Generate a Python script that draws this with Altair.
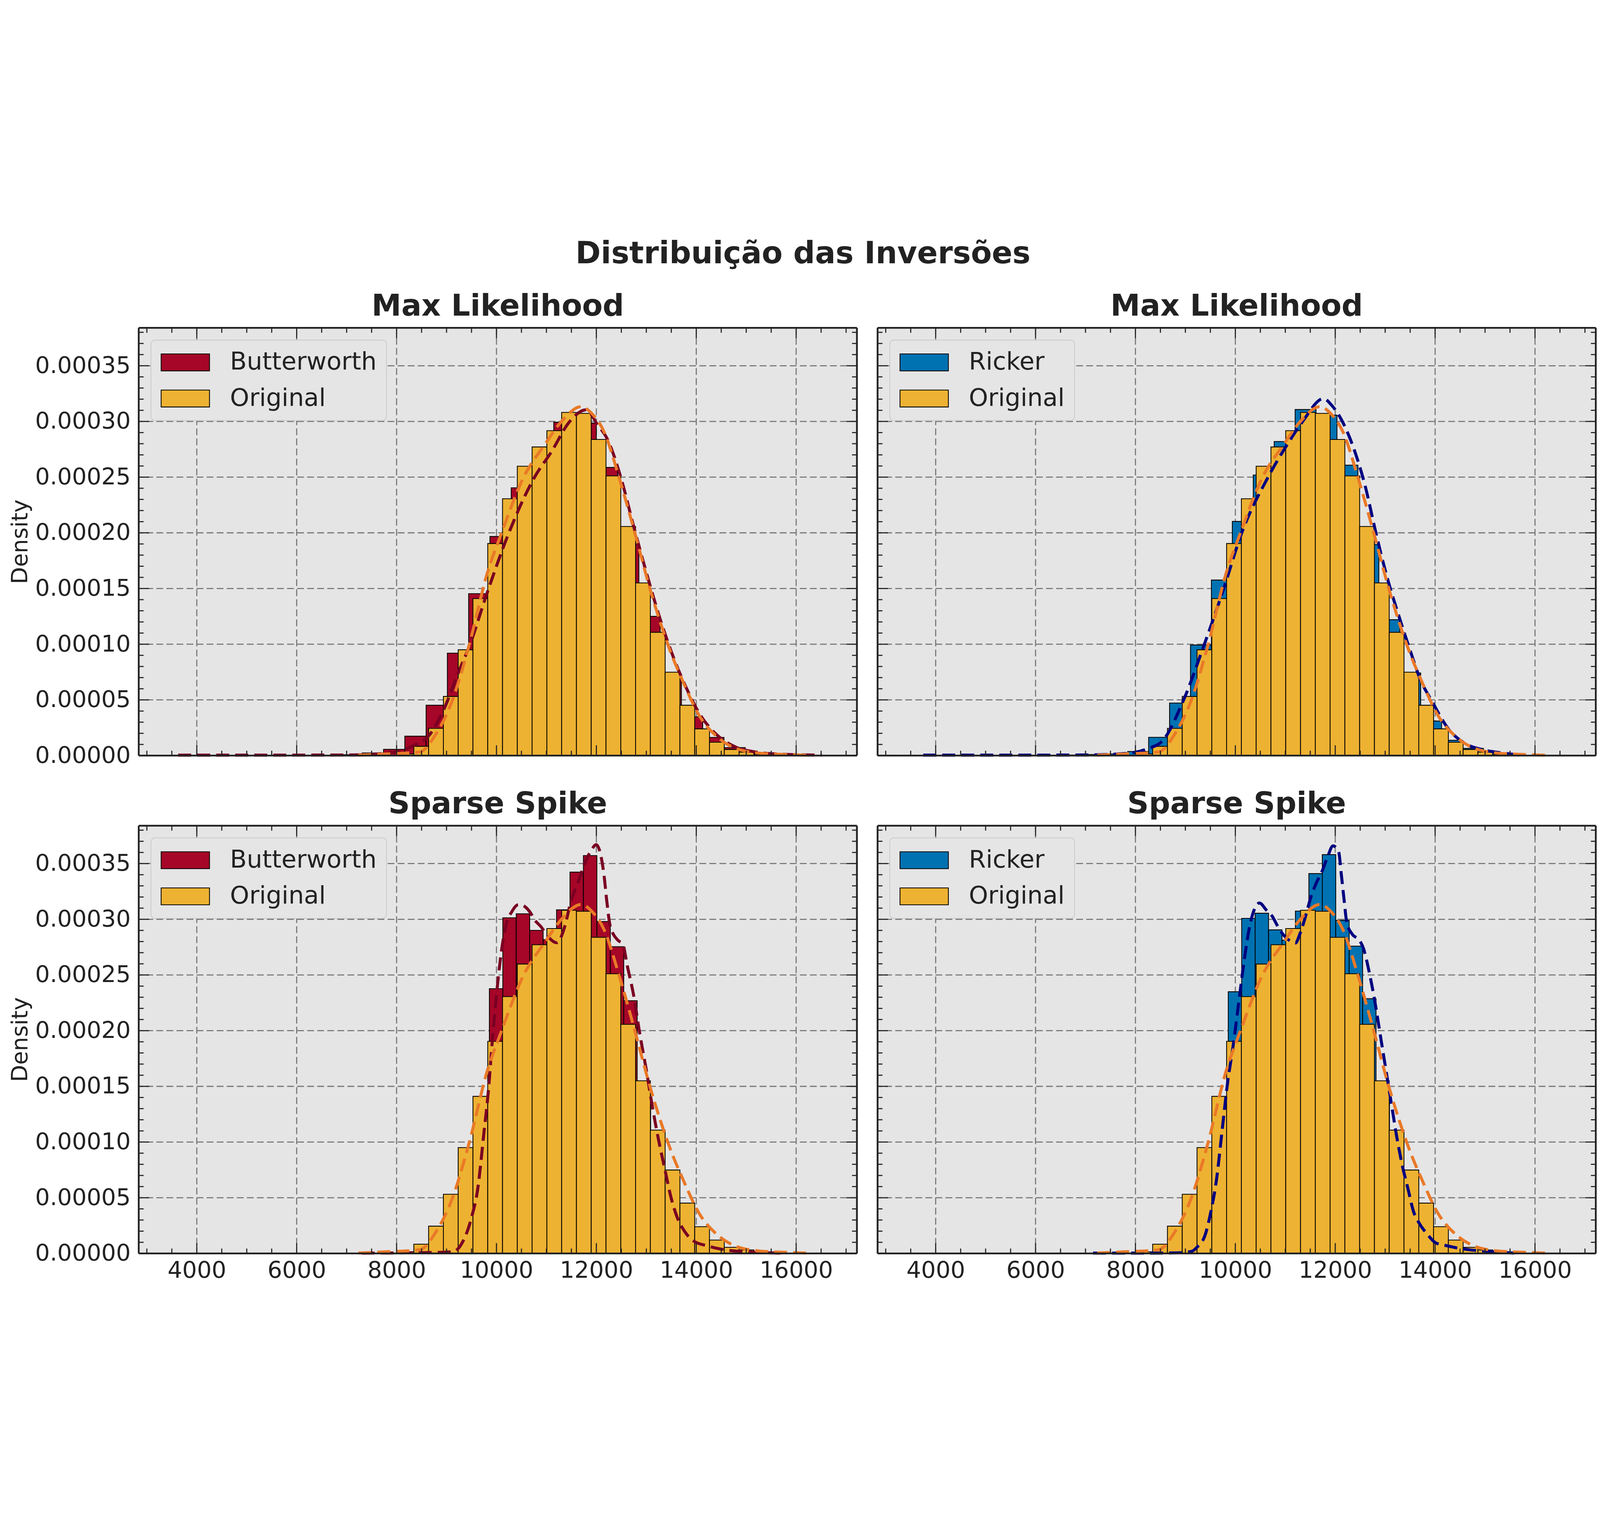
import altair as alt
import pandas as pd

# panel size (plot area) and axis ranges
W, H = 2643, 1574
X_DOMAIN = [2837, 17217]
Y_DOMAIN = [0, 0.000384]

X_MAJOR = [4000, 6000, 8000, 10000, 12000, 14000, 16000]
Y_MAJOR = [0.0, 0.00005, 0.0001, 0.00015, 0.0002, 0.00025, 0.0003, 0.00035]
X_MINOR = [v for v in range(3000, 17500, 500) if v % 2000]
Y_MINOR = [k / 100000 for k in range(1, 39) if k % 5]

# colours
BW_BAR, RK_BAR, ORIG_BAR = "#A60628", "#0072B2", "#EEB232"
BW_LINE, RK_LINE, ORIG_LINE = "#7A0022", "#000080", "#E97927"
INK = "#222222"

# histograms: first bin edge, bin width, densities
ORIG_START, ORIG_WIDTH = 8049, 296
ORIG_DENS = [0.0000015, 0.0000083, 0.0000245, 0.0000531, 0.000095, 0.000141,
             0.0001904, 0.0002306, 0.0002598, 0.0002771, 0.0002917, 0.0003081,
             0.0003072, 0.0002838, 0.0002511, 0.0002057, 0.000155, 0.0001107,
             0.0000749, 0.0000452, 0.000024, 0.000012, 0.0000055, 0.0000031, 0.000001]

BW_ML_START, BW_ML_WIDTH = 6887, 426
BW_ML_DENS = [0.0000008, 0.0000024, 0.0000056, 0.0000174, 0.0000452, 0.000092,
              0.0001454, 0.0001967, 0.0002404, 0.000272, 0.0002993, 0.0002985,
              0.0002587, 0.00019, 0.000125, 0.0000728, 0.0000348, 0.0000163,
              0.0000072, 0.0000017]

RK_ML_START, RK_ML_WIDTH = 6588, 419
RK_ML_DENS = [0.0000005, 0.000001, 0.0000015, 0.0000037, 0.0000164, 0.0000472,
              0.0000993, 0.0001576, 0.0002102, 0.0002519, 0.000282, 0.0003107,
              0.0003056, 0.0002607, 0.0001895, 0.000122, 0.0000742, 0.000031,
              0.0000138, 0.0000065, 0.0000022]

BW_SS_START, BW_SS_WIDTH = 9051, 269
BW_SS_DENS = [0.000004, 0.00003, 0.0001, 0.0002377, 0.0003013, 0.0003049, 0.00029,
              0.0002818, 0.0003085, 0.0003423, 0.0003572, 0.000298, 0.0002754,
              0.0002269, 0.00015, 0.0001, 0.000045, 0.000017, 0.000008, 0.000004,
              0.000002]

RK_SS_START, RK_SS_WIDTH = 9051, 269
RK_SS_DENS = [0.000004, 0.00003, 0.0001, 0.0002349, 0.0003008, 0.0003054,
              0.0002905, 0.0002813, 0.0003074, 0.000341, 0.000358, 0.000299,
              0.0002759, 0.0002287, 0.00015, 0.000105, 0.00004, 0.000015,
              0.000007, 0.0000045, 0.000002]

# kde curves
ORIG_KDE_X = [7233, 7800, 8462, 8792, 9122, 9452, 9815, 10099, 10541, 10970, 11300,
              11696, 11894, 12158, 12455, 12752, 13082, 13479, 13743, 14073, 14403,
              14733, 15261, 15987, 16300]
ORIG_KDE_Y = [0.0000004, 0.0000015, 0.0000033, 0.0000196, 0.0000502, 0.0000991,
              0.0001637, 0.0001995, 0.0002497, 0.0002794, 0.0002999, 0.0003133,
              0.0003078, 0.0002903, 0.0002497, 0.000203, 0.0001484, 0.0000939,
              0.0000655, 0.0000349, 0.0000175, 0.0000076, 0.0000022, 0.0000007,
              0.0000002]

BW_ML_KDE_X = [3626, 5000, 6500, 7142, 7802, 8330, 8660, 8924, 9254, 9465, 9782,
               10244, 10759, 11102, 11465, 11795, 12026, 12224, 12488, 12752, 13016,
               13281, 13545, 13809, 14073, 14403, 14799, 15195, 15723, 16515]
BW_ML_KDE_Y = [0.0000004, 0.0000004, 0.0000005, 0.0000006, 0.0000022, 0.0000087,
               0.0000186, 0.0000393, 0.0000764, 0.0000991, 0.000142, 0.0001995,
               0.0002497, 0.0002729, 0.0002999, 0.0003104, 0.0002969, 0.0002838,
               0.00025, 0.000205, 0.000162, 0.000122, 0.000088, 0.00006,
               0.000037, 0.000019, 0.0000075, 0.0000032, 0.0000012, 0.0000004]

RK_ML_KDE_X = [3750, 5500, 7038, 7872, 8261, 8539, 8956, 9373, 9763, 10124, 10652,
               11041, 11347, 11764, 11931, 12153, 12376, 12598, 12821, 13043, 13265,
               13488, 13710, 13933, 14266, 14600, 14933, 15378, 15712]
RK_ML_KDE_Y = [0.0000004, 0.0000004, 0.0000006, 0.0000022, 0.0000065, 0.0000131,
               0.0000491, 0.0000991, 0.0001493, 0.0001995, 0.0002497, 0.0002794,
               0.0002999, 0.0003205, 0.0003144, 0.0002991, 0.0002751, 0.0002423,
               0.0001987, 0.0001594, 0.0001266, 0.0000961, 0.0000677, 0.0000491,
               0.000024, 0.0000109, 0.0000055, 0.0000022, 0.0000004]

BW_SS_KDE_X = [7300, 8200, 8700, 9125, 9310, 9500, 9625, 9750, 9842, 9908, 10000,
               10092, 10185, 10310, 10435, 10478, 10663, 10772, 10897, 10989, 11207,
               11293, 11370, 11495, 11641, 11783, 11900, 11995, 12152, 12212, 12277,
               12435, 12527, 12620, 12745, 12870, 12995, 13120, 13245, 13370, 13495,
               13620, 13772, 13929, 14239, 14554, 15179, 15804]
BW_SS_KDE_Y = [0.0000003, 0.0000005, 0.0000008, 0.0000015, 0.0000093, 0.0000322,
               0.000058, 0.000109, 0.000148, 0.000186, 0.000232, 0.000269, 0.000294,
               0.000307, 0.000313, 0.000313, 0.000307, 0.000299, 0.000293, 0.000287,
               0.000279, 0.000284, 0.000294, 0.000317, 0.000334, 0.000352, 0.000362,
               0.000367, 0.00034, 0.000315, 0.000294, 0.000281, 0.000278, 0.000258,
               0.000232, 0.000197, 0.000166, 0.000132, 0.000102, 0.0000759,
               0.0000502, 0.0000322, 0.0000195, 0.0000117, 0.0000066, 0.0000034,
               0.000001, 0.0000002]

RK_SS_KDE_X = [7150, 8400, 8844, 9122, 9233, 9400, 9511, 9622, 9733, 9844, 9956,
               10067, 10178, 10289, 10400, 10483, 10622, 10733, 10844, 10956, 11122,
               11206, 11289, 11400, 11511, 11622, 11733, 11844, 11956, 12067, 12122,
               12178, 12233, 12344, 12483, 12567, 12678, 12789, 12900, 13011, 13122,
               13233, 13344, 13456, 13567, 13678, 13844, 14011, 14233, 14511, 15067,
               15622]
RK_SS_KDE_Y = [0.0000003, 0.0000003, 0.0000005, 0.0000018, 0.0000056, 0.0000172,
               0.0000377, 0.0000659, 0.0001095, 0.0001531, 0.0001864, 0.0002249,
               0.0002633, 0.0002941, 0.0003108, 0.0003146, 0.0003082, 0.0003031,
               0.0002941, 0.0002864, 0.00028, 0.0002787, 0.0002864, 0.0003018,
               0.0003197, 0.0003326, 0.0003428, 0.0003556, 0.0003659, 0.0003608,
               0.0003403, 0.0003172, 0.0002967, 0.0002864, 0.0002813, 0.0002736,
               0.0002531, 0.0002274, 0.0001967, 0.0001659, 0.0001351, 0.0001044,
               0.0000787, 0.0000582, 0.0000377, 0.0000274, 0.0000172, 0.0000095,
               0.0000069, 0.0000044, 0.0000018, 0.0000002]

LEGEND_SHAPE = "M-1,-0.7L3,-0.7L3,0.7L-1,0.7Z"


def hist_rows(name, start, width, dens, z):
    return pd.DataFrame({
        "series": name,
        "x0": [start + i * width for i in range(len(dens))],
        "x1": [start + (i + 1) * width for i in range(len(dens))],
        "density": dens,
        "z": z,
    })


def panel(title, name, bar_color, line_color, start, width, dens,
          kde_x, kde_y, left, bottom):
    x_scale = alt.Scale(domain=X_DOMAIN, nice=False, zero=False)
    y_scale = alt.Scale(domain=Y_DOMAIN, nice=False, zero=False)
    if bottom:
        x_axis = alt.Axis(values=X_MAJOR, format="d", labelFontSize=85,
                          labelColor=INK, labelPadding=22, labelLimit=1000,
                          ticks=False, tickSize=0, domain=False, grid=False,
                          title=None, labelFlush=False)
    else:
        x_axis = None
    if left:
        y_axis = alt.Axis(values=Y_MAJOR, format=".5f", labelFontSize=85,
                          labelColor=INK, labelPadding=30, labelLimit=1000,
                          ticks=False, tickSize=0, domain=False, grid=False,
                          title=None)
    else:
        y_axis = None

    def xe(field):
        return alt.X(f"{field}:Q", scale=x_scale, axis=x_axis)

    def ye(field):
        return alt.Y(f"{field}:Q", scale=y_scale, axis=y_axis)

    xmaj = alt.Chart(pd.DataFrame({"v": X_MAJOR}))
    xmin = alt.Chart(pd.DataFrame({"v": X_MINOR}))
    ymaj = alt.Chart(pd.DataFrame({"v": Y_MAJOR}))
    ymin = alt.Chart(pd.DataFrame({"v": Y_MINOR}))
    one = alt.Chart(pd.DataFrame({"a": [0]}))

    grid_style = dict(color="#767676", strokeWidth=4, strokeDash=[25, 12])
    grid_v = xmaj.mark_rule(**grid_style).encode(x=xe("v"))
    grid_h = alt.Chart(pd.DataFrame({"v": Y_MAJOR[1:]})).mark_rule(**grid_style).encode(y=ye("v"))

    bars = pd.concat([hist_rows(name, start, width, dens, 0),
                      hist_rows("Original", ORIG_START, ORIG_WIDTH, ORIG_DENS, 1)])
    legend = alt.Legend(title=None, orient="top-left", offset=45, padding=36,
                        fillColor="#E5E5E5", strokeColor="#CCCCCC",
                        cornerRadius=15, labelFontSize=90, labelColor=INK,
                        labelLimit=1200, labelOffset=163, symbolType=LEGEND_SHAPE,
                        symbolSize=7921, symbolStrokeColor="black",
                        symbolStrokeWidth=3, symbolOpacity=1, rowPadding=42)
    hist = alt.Chart(bars).mark_rect(stroke="black", strokeWidth=3, opacity=1).encode(
        x=xe("x0"), x2="x1", y=ye("density"), y2=alt.datum(0),
        color=alt.Color("series:N",
                        scale=alt.Scale(domain=[name, "Original"],
                                        range=[bar_color, ORIG_BAR]),
                        legend=legend),
        order="z:Q",
    )

    line_style = dict(strokeWidth=11, strokeDash=[48, 22], interpolate="monotone")
    kde_f = alt.Chart(pd.DataFrame({"x": kde_x, "y": kde_y})).mark_line(
        color=line_color, **line_style).encode(x=xe("x"), y=ye("y"))
    kde_o = alt.Chart(pd.DataFrame({"x": ORIG_KDE_X, "y": ORIG_KDE_Y})).mark_line(
        color=ORIG_LINE, **line_style).encode(x=xe("x"), y=ye("y"))

    tick = dict(color=INK, strokeWidth=4)
    ticks = [
        xmaj.mark_rule(**tick).encode(x=xe("v"), y=alt.value(0), y2=alt.value(38)),
        xmaj.mark_rule(**tick).encode(x=xe("v"), y=alt.value(H - 38), y2=alt.value(H)),
        xmin.mark_rule(**tick).encode(x=xe("v"), y=alt.value(0), y2=alt.value(18)),
        xmin.mark_rule(**tick).encode(x=xe("v"), y=alt.value(H - 18), y2=alt.value(H)),
        ymaj.mark_rule(**tick).encode(y=ye("v"), x=alt.value(0), x2=alt.value(38)),
        ymaj.mark_rule(**tick).encode(y=ye("v"), x=alt.value(W - 38), x2=alt.value(W)),
        ymin.mark_rule(**tick).encode(y=ye("v"), x=alt.value(0), x2=alt.value(18)),
        ymin.mark_rule(**tick).encode(y=ye("v"), x=alt.value(W - 18), x2=alt.value(W)),
    ]
    spine = dict(color=INK, strokeWidth=6.5)
    frame = [
        one.mark_rule(**spine).encode(x=alt.value(0), y=alt.value(0), y2=alt.value(H)),
        one.mark_rule(**spine).encode(x=alt.value(W), y=alt.value(0), y2=alt.value(H)),
        one.mark_rule(**spine).encode(y=alt.value(0), x=alt.value(0), x2=alt.value(W)),
        one.mark_rule(**spine).encode(y=alt.value(H), x=alt.value(0), x2=alt.value(W)),
    ]
    layers = [grid_v, grid_h, hist, kde_f, kde_o, *ticks, *frame]
    if left:
        layers.append(one.mark_text(text="Density", angle=270, fontSize=82,
                                    color=INK, align="center",
                                    baseline="alphabetic").encode(
            x=alt.value(-410), y=alt.value(H / 2)))

    return alt.layer(*layers).properties(
        width=W, height=H,
        title=alt.TitleParams(title, fontSize=110, fontWeight="bold", color=INK,
                              anchor="middle", offset=19),
    )


p11 = panel("Max Likelihood", "Butterworth", BW_BAR, BW_LINE, BW_ML_START,
            BW_ML_WIDTH, BW_ML_DENS, BW_ML_KDE_X, BW_ML_KDE_Y, True, False)
p12 = panel("Max Likelihood", "Ricker", RK_BAR, RK_LINE, RK_ML_START,
            RK_ML_WIDTH, RK_ML_DENS, RK_ML_KDE_X, RK_ML_KDE_Y, False, False)
p21 = panel("Sparse Spike", "Butterworth", BW_BAR, BW_LINE, BW_SS_START,
            BW_SS_WIDTH, BW_SS_DENS, BW_SS_KDE_X, BW_SS_KDE_Y, True, True)
p22 = panel("Sparse Spike", "Ricker", RK_BAR, RK_LINE, RK_SS_START,
            RK_SS_WIDTH, RK_SS_DENS, RK_SS_KDE_X, RK_SS_KDE_Y, False, True)

top = alt.hconcat(p11, p12, spacing=68).resolve_scale(color="independent")
bottom = alt.hconcat(p21, p22, spacing=68).resolve_scale(color="independent")

chart = alt.vconcat(top, bottom, spacing=80).resolve_scale(
    color="independent"
).properties(
    title=alt.TitleParams("Distribuição das Inversões", fontSize=112,
                          fontWeight="bold", color=INK, anchor="middle",
                          offset=80),
    padding={"top": 22, "left": 22, "right": 0, "bottom": 0},
    background="white",
).configure(
    font="DejaVu Sans"
).configure_view(
    fill="#E5E5E5", stroke="transparent"
).configure_legend(
    strokeWidth=3
)

chart.save("out.html", embed_options={"renderer": "svg", "actions": False})
